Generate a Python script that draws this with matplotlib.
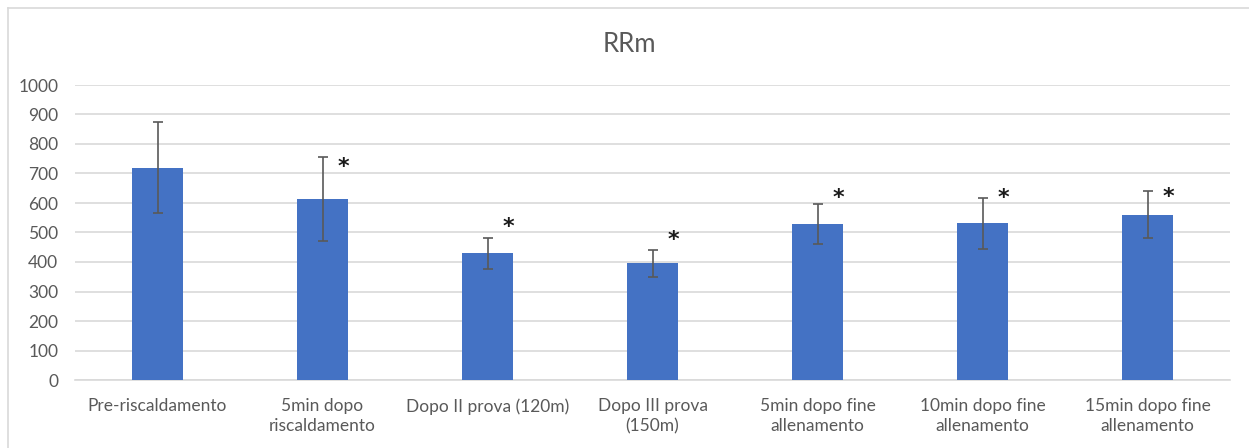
import matplotlib
matplotlib.use("Agg")
import matplotlib.pyplot as plt
from matplotlib.lines import Line2D
import numpy as np

# ---- data ----
categories = [
    "Pre-riscaldamento",
    "5min dopo\nriscaldamento",
    "Dopo II prova (120m)",
    "Dopo III prova\n(150m)",
    "5min dopo fine\nallenamento",
    "10min dopo fine\nallenamento",
    "15min dopo fine\nallenamento",
]
means = [720, 613, 429, 395, 528, 531, 561]
errors = [155, 143, 52, 46, 67, 86, 79]
significant = [False, True, True, True, True, True, True]
star_heights = [0, 722, 519, 475, 617, 617, 621]
yticks = list(range(0, 1001, 100))
title = "RRm"

W, H = 1249, 448
DPI = 100
plt.rcParams['font.family'] = ['Lato', 'DejaVu Sans']
text_color = "#595959"
grid_color = "#d9d9d9"
bar_color = "#4472C4"

fig = plt.figure(figsize=(W / DPI, H / DPI), dpi=DPI)
ax = fig.add_axes([75 / W, 1 - 380 / H, (1230 - 75) / W, (380 - 85) / H])

x = np.arange(len(categories))
ax.bar(x, means, width=0.31, color=bar_color, zorder=3)
ax.errorbar(x, means, yerr=errors, fmt="none", ecolor=text_color,
            elinewidth=1.2, capsize=3.3, capthick=1.2, zorder=4)

for xi, sig, sh in zip(x, significant, star_heights):
    if sig:
        ax.text(xi + 0.125, sh, "*", ha="center", va="center",
                fontsize=16, fontweight="bold", color="#1a1a1a", zorder=5,
                family="DejaVu Sans")

ax.set_xlim(-0.5, len(categories) - 0.5)
ax.set_ylim(0, 1000)
ax.set_yticks(yticks)
ax.set_xticks(x)
ax.set_xticklabels(categories, linespacing=1.3)
ax.yaxis.grid(True, color=grid_color, linewidth=1.2, zorder=0)
ax.set_axisbelow(True)
for s in ["top", "right", "left"]:
    ax.spines[s].set_visible(False)
ax.spines["bottom"].set_color(grid_color)
ax.spines["bottom"].set_linewidth(1.2)
ax.tick_params(axis="both", length=0, colors=text_color, labelsize=12.5)
ax.tick_params(axis="x", pad=13)
ax.tick_params(axis="y", pad=12)

fig.text(629 / W, 1 - 52 / H, title, ha="center", va="baseline",
         fontsize=18.5, color=text_color)

# chart-area border
fig.add_artist(Line2D([7.5 / W, 7.5 / W], [0, 1 - 8.5 / H], transform=fig.transFigure,
                      color=grid_color, linewidth=1.2))
fig.add_artist(Line2D([7.5 / W, 1], [1 - 8.5 / H, 1 - 8.5 / H], transform=fig.transFigure,
                      color=grid_color, linewidth=1.2))

fig.savefig("out.png", dpi=DPI, facecolor="white")
